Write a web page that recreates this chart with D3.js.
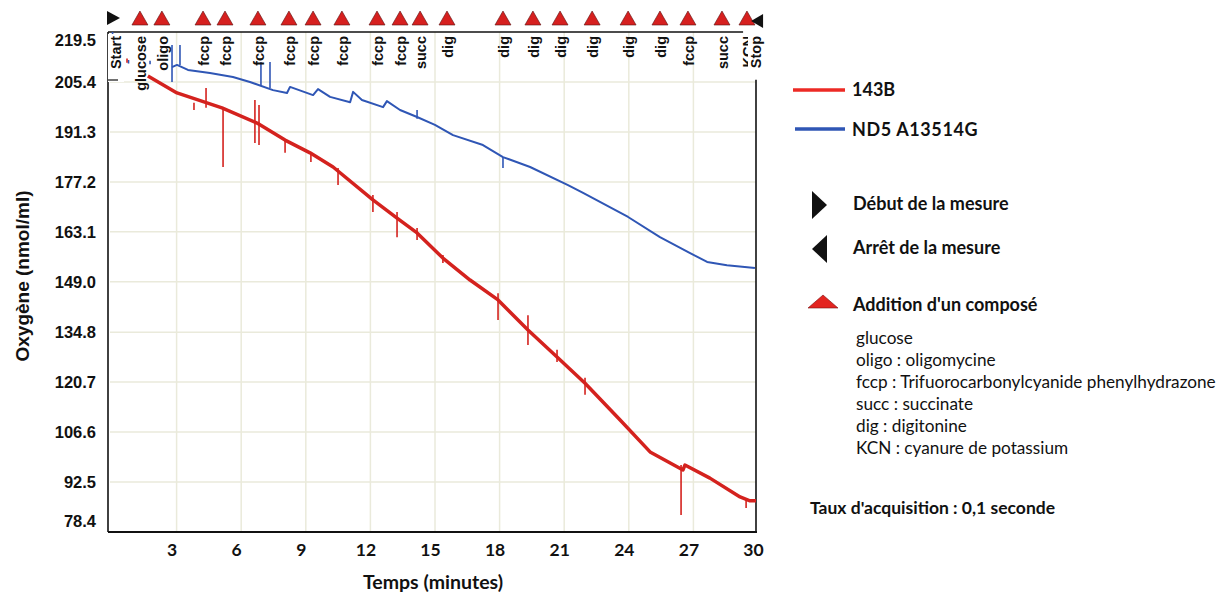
<!DOCTYPE html>
<html>
<head>
<meta charset="utf-8">
<script src="https://cdn.jsdelivr.net/npm/d3@7"></script>
<style>
  body { margin: 0; background: #fff; }
  svg text { fill: #111; }
</style>
</head>
<body>
<div id="chart-area"></div>
<script>
// Axis ticks
const xTicks = [3, 6, 9, 12, 15, 18, 21, 24, 27, 30];
const yTicks = [78.4, 92.5, 106.6, 120.7, 134.8, 149.0, 163.1, 177.2, 191.3, 205.4, 219.5];

// 143B trace [minutes, nmol/ml]
const redTrace = [
  [1.76, 207.1], [3.11, 202.3], [5.20, 198.1], [6.83, 193.8], [8.13, 189.0],
  [9.29, 185.4], [10.36, 181.4], [12.21, 172.1], [13.33, 167.0], [14.26, 162.8],
  [15.46, 155.7], [16.72, 149.5], [18.02, 143.9], [19.41, 135.4], [20.76, 127.8],
  [22.06, 120.4], [23.69, 110.0], [25.08, 101.0], [26.61, 95.9], [26.70, 97.3],
  [27.86, 93.6], [29.26, 88.3], [29.72, 87.2], [30.0, 87.2]
];
// 143B spikes [minutes, from, to]
const redSpikes = [
  [3.90, 199.5, 197.5], [4.46, 203.7, 198.1], [5.25, 197.5, 181.4], [6.73, 200.3, 188.2],
  [6.92, 198.9, 187.6], [8.13, 189.0, 185.4], [9.33, 184.8, 182.8], [10.59, 181.1, 176.3],
  [12.21, 173.5, 168.7], [13.33, 168.7, 161.6], [14.26, 164.2, 160.8], [15.46, 156.6, 154.3],
  [18.02, 145.8, 138.2], [19.41, 139.6, 131.2], [20.76, 129.8, 126.4], [22.06, 121.9, 117.1],
  [26.52, 97.3, 83.2], [29.54, 87.4, 85.2], [0.79, 212.0, 210.8]
];

// ND5 A13514G trace
const blueTrace = [
  [2.88, 209.6], [3.11, 210.2], [3.62, 208.8], [4.64, 207.9], [5.71, 206.8],
  [6.50, 205.4], [7.57, 203.1], [8.22, 202.3], [8.36, 204.0], [9.43, 201.7],
  [9.66, 203.4], [10.22, 201.2], [11.15, 199.7], [11.29, 202.6], [11.70, 200.3],
  [12.68, 198.3], [12.86, 200.0], [13.47, 197.5], [14.26, 195.5], [15.09, 193.3],
  [15.93, 190.4], [17.32, 187.6], [18.25, 184.2], [19.51, 181.4], [21.27, 176.3],
  [21.97, 174.1], [24.06, 167.3], [25.54, 161.6], [26.94, 157.1], [27.73, 154.6],
  [28.65, 153.7], [29.95, 152.9]
];
const blueSpikes = [
  [0.12, 219.5, 215.8], [2.88, 215.8, 205.4], [3.25, 215.8, 210.2], [7.01, 211.0, 204.5],
  [7.43, 211.0, 203.7], [14.26, 197.5, 195.0], [18.25, 184.2, 181.1], [1.86, 211.4, 210.4],
  [0.86, 211.6, 210.6]
];

// Compound additions [minutes, label]
const addTimes = [1.39, 2.41, 4.32, 5.34, 6.87, 8.31, 9.43, 10.77, 12.40, 13.47, 14.40,
  15.65, 18.25, 19.64, 20.90, 22.39, 24.06, 25.54, 26.84, 28.42, 29.58];
const addLabels = ['glucose', 'oligo', 'fccp', 'fccp', 'fccp', 'fccp', 'fccp', 'fccp', 'fccp', 'fccp', 'succ',
  'dig', 'dig', 'dig', 'dig', 'dig', 'dig', 'dig', 'fccp', 'succ', 'KCN'];
const startTime = 0.14;
const stopTime = 30.05;

// Legend text
const compounds = ['glucose', 'oligo : oligomycine', 'fccp : Trifuorocarbonylcyanide phenylhydrazone',
  'succ : succinate', 'dig : digitonine', 'KCN : cyanure de potassium'];

const W = 1229, H = 596;
const RED = '#d4221e', BLUE = '#2f56b5';

const svg = d3.select('#chart-area').append('svg')
  .attr('width', W).attr('height', H)
  .style('font-family', '"Liberation Sans", Arial, sans-serif');

const x = d3.scaleLinear().domain([0, 30]).range([110, 756]);
const y = d3.scaleLinear().domain([78.4, 219.5]).range([532, 32]);

// Grid
svg.append('g').selectAll('line').data(yTicks.slice(1, -1)).join('line')
  .attr('x1', x(0)).attr('x2', x(30))
  .attr('y1', d => y(d)).attr('y2', d => y(d))
  .attr('stroke', '#eaeadb').attr('stroke-width', 1.5);
svg.append('g').selectAll('line').data(xTicks.slice(0, -1)).join('line')
  .attr('x1', d => x(d) + 2).attr('x2', d => x(d) + 2)
  .attr('y1', y(219.5)).attr('y2', y(78.4))
  .attr('stroke', '#eaeadb').attr('stroke-width', 1.5);

// Frame
svg.append('line').attr('x1', x(0) - 2).attr('x2', x(29.4)).attr('y1', y(219.5)).attr('y2', y(219.5))
  .attr('stroke', '#111').attr('stroke-width', 1.6);
svg.append('line').attr('x1', x(0) - 2).attr('x2', x(0) - 2).attr('y1', y(219.5)).attr('y2', y(78.4))
  .attr('stroke', '#111').attr('stroke-width', 1.6);
svg.append('line').attr('x1', x(30)).attr('x2', x(30)).attr('y1', y(206)).attr('y2', y(78.4))
  .attr('stroke', '#111').attr('stroke-width', 1.6);
svg.append('line').attr('x1', x(0) - 2).attr('x2', x(30) + 1).attr('y1', y(78.4)).attr('y2', y(78.4))
  .attr('stroke', '#111').attr('stroke-width', 2);

// Y axis
const yAxis = svg.append('g')
  .attr('transform', `translate(${x(0) - 14},0)`)
  .call(d3.axisLeft(y).tickValues(yTicks).tickFormat(d3.format('.1f')).tickSize(0).tickPadding(0));
yAxis.select('.domain').remove();
yAxis.selectAll('text')
  .style('font-family', '"Liberation Sans", Arial, sans-serif')
  .style('font-weight', 'bold').style('font-size', '16.5px').attr('fill', '#111')
  .attr('dy', d => d === 78.4 ? '-0.35em' : d === 219.5 ? '0.8em' : '0.35em');

// X axis
const xAxis = svg.append('g')
  .attr('transform', `translate(0,${y(78.4)})`)
  .call(d3.axisBottom(x).tickValues(xTicks).tickSize(0).tickPadding(12));
xAxis.select('.domain').remove();
xAxis.selectAll('text')
  .style('font-family', 'Lato, "Open Sans", sans-serif')
  .style('font-weight', 'bold').style('font-size', '17.5px').attr('fill', '#111')
  .attr('x', -3);

// Axis titles
svg.append('text')
  .attr('x', 433).attr('y', 589)
  .attr('text-anchor', 'middle')
  .style('font-family', 'Lato, "Open Sans", sans-serif')
  .style('font-weight', 'bold').style('font-size', '19.5px')
  .text('Temps (minutes)');
svg.append('text')
  .attr('transform', 'translate(29,276) rotate(-90)')
  .attr('text-anchor', 'middle')
  .style('font-weight', 'bold').style('font-size', '19px')
  .text('Oxygène (nmol/ml)');

// Traces
const line = d3.line().x(d => x(d[0])).y(d => y(d[1]));
svg.append('path').datum(blueTrace).attr('d', line)
  .attr('fill', 'none').attr('stroke', BLUE).attr('stroke-width', 2).attr('stroke-linejoin', 'round');
svg.append('g').selectAll('line').data(blueSpikes).join('line')
  .attr('x1', d => x(d[0])).attr('x2', d => x(d[0]))
  .attr('y1', d => y(d[1])).attr('y2', d => y(d[2]))
  .attr('stroke', BLUE).attr('stroke-width', 1.6);
svg.append('path').datum(redTrace).attr('d', line)
  .attr('fill', 'none').attr('stroke', RED).attr('stroke-width', 3.5).attr('stroke-linejoin', 'round');
svg.append('g').selectAll('line').data(redSpikes).join('line')
  .attr('x1', d => x(d[0])).attr('x2', d => x(d[0]))
  .attr('y1', d => y(d[1])).attr('y2', d => y(d[2]))
  .attr('stroke', RED).attr('stroke-width', 1.6);

// Addition markers
const triY = 18;
svg.append('g').selectAll('path').data(addTimes).join('path')
  .attr('d', d => `M${x(d) - 8},${triY + 7} L${x(d)},${triY - 7} L${x(d) + 8},${triY + 7} Z`)
  .attr('fill', '#d6201f').attr('stroke', '#5a1010').attr('stroke-width', 0.6);
svg.append('g').selectAll('text').data(addTimes).join('text')
  .attr('transform', (d, i) => `translate(${x(d) + 6},${y(219.5) + 4}) rotate(-90)`)
  .attr('text-anchor', 'end')
  .style('font-weight', 'bold').style('font-size', '14.5px')
  .text((d, i) => addLabels[i]);

// Start / stop
svg.append('path')
  .attr('d', `M${x(startTime) - 6},${triY - 7} L${x(startTime) + 7},${triY} L${x(startTime) - 6},${triY + 7} Z`)
  .attr('fill', '#111');
svg.append('path')
  .attr('d', `M${x(stopTime) + 6},${triY - 4} L${x(stopTime) - 6},${triY + 3} L${x(stopTime) + 6},${triY + 10} Z`)
  .attr('fill', '#111');
svg.append('rect').attr('x', x(0) - 2).attr('y', y(219.5) + 2).attr('width', 16).attr('height', 48).attr('fill', '#fff');
svg.append('text')
  .attr('transform', `translate(${x(0) + 11},${y(219.5) + 4}) rotate(-90)`)
  .attr('text-anchor', 'end')
  .style('font-weight', 'bold').style('font-size', '14.5px')
  .text('Start');
svg.append('line').attr('x1', x(0) - 2).attr('x2', x(0) + 8).attr('y1', y(219.5) + 48).attr('y2', y(219.5) + 48)
  .attr('stroke', '#111').attr('stroke-width', 1.2);
svg.append('rect').attr('x', x(30) - 8).attr('y', y(219.5) + 2).attr('width', 14).attr('height', 36).attr('fill', '#fff');
svg.append('text')
  .attr('transform', `translate(${x(30) + 5},${y(219.5) + 4}) rotate(-90)`)
  .attr('text-anchor', 'end')
  .style('font-weight', 'bold').style('font-size', '14.5px')
  .text('Stop');

// Legend
const lg = svg.append('g').style('font-family', 'Lato, "Open Sans", sans-serif');
const bold = sel => sel.style('font-weight', 'bold').style('font-size', '18px');
lg.append('line').attr('x1', 793).attr('x2', 845).attr('y1', 90).attr('y2', 90)
  .attr('stroke', '#ec2a25').attr('stroke-width', 3.5);
lg.append('text').attr('x', 852).attr('y', 96).call(bold).text('143B');
lg.append('line').attr('x1', 795).attr('x2', 845).attr('y1', 129).attr('y2', 129)
  .attr('stroke', BLUE).attr('stroke-width', 3.5);
lg.append('text').attr('x', 852).attr('y', 136).call(bold).style('letter-spacing', '0.6px').text('ND5 A13514G');

lg.append('path').attr('d', 'M812,191 L827,205 L812,219 Z').attr('fill', '#111');
lg.append('text').attr('x', 853).attr('y', 210).call(bold).text('Début de la mesure');
lg.append('path').attr('d', 'M827,235 L812,249 L827,263 Z').attr('fill', '#111');
lg.append('text').attr('x', 853).attr('y', 254).call(bold).text('Arrêt de la mesure');
lg.append('path').attr('d', 'M808,308 L823,295 L838,308 Z').attr('fill', '#e32420').attr('stroke', '#7a1010').attr('stroke-width', 0.6);
lg.append('text').attr('x', 853).attr('y', 311).call(bold).text("Addition d'un composé");

lg.append('g').selectAll('text').data(compounds).join('text')
  .attr('x', 856).attr('y', (d, i) => 344 + i * 22)
  .style('font-size', '17.2px')
  .text(d => d);

lg.append('text').attr('x', 810).attr('y', 514).call(bold).style('font-size', '17.5px')
  .text("Taux d'acquisition : 0,1 seconde");
</script>
</body>
</html>
